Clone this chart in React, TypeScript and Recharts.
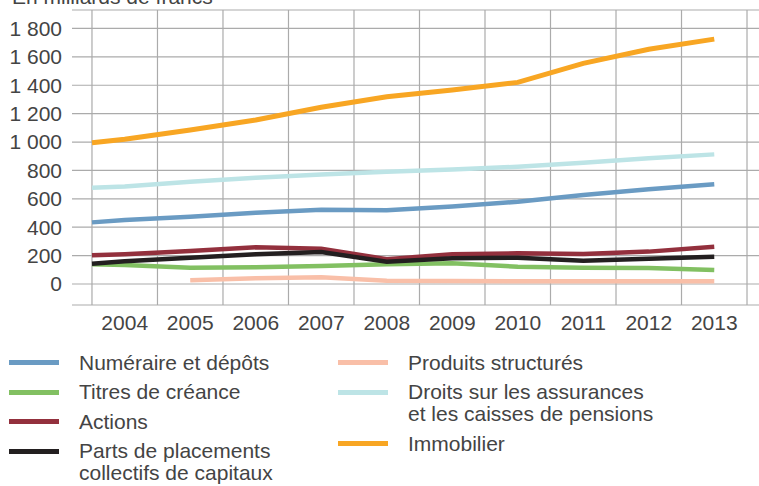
import { LineChart, Line, XAxis, YAxis, CartesianGrid, ReferenceLine } from 'recharts';

// first value sits on the left edge (end 2003), the rest at mid-year
const dates = [2003.5, 2004, 2005, 2006, 2007, 2008, 2009, 2010, 2011, 2012, 2013];
const yearTicks = [2004, 2005, 2006, 2007, 2008, 2009, 2010, 2011, 2012, 2013];
const yTicks = [0, 200, 400, 600, 800, 1000, 1200, 1400, 1600, 1800];

const numeraire = [434, 451, 474, 502, 523, 519, 545, 580, 627, 667, 702];
const titres = [139, 134, 115, 118, 127, 139, 146, 122, 115, 113, 99];
const actions = [202, 209, 232, 258, 249, 175, 209, 216, 211, 228, 263];
const parts = [143, 160, 185, 209, 225, 157, 181, 185, 164, 178, 192];
const produits = [null, null, 26, 40, 47, 23, 21, 19, 19, 19, 19];
const droits = [678, 686, 720, 749, 772, 791, 807, 826, 854, 885, 913];
const immobilier = [995, 1019, 1085, 1155, 1245, 1319, 1366, 1420, 1554, 1653, 1725];

const series = [
    { key: 'numeraire', values: numeraire, color: '#6a9bc3', label: ['Numéraire et dépôts'] },
    { key: 'titres', values: titres, color: '#82c062', label: ['Titres de créance'] },
    { key: 'actions', values: actions, color: '#93303d', label: ['Actions'] },
    { key: 'parts', values: parts, color: '#231f20', label: ['Parts de placements', 'collectifs de capitaux'] },
    { key: 'produits', values: produits, color: '#f9bfa8', label: ['Produits structurés'] },
    { key: 'droits', values: droits, color: '#bde4e6', label: ['Droits sur les assurances', 'et les caisses de pensions'] },
    { key: 'immobilier', values: immobilier, color: '#f8a623', label: ['Immobilier'] },
];

const drawOrder = ['produits', 'droits', 'numeraire', 'titres', 'actions', 'parts', 'immobilier'];

const data = dates.map((d, i) => {
    const row: any = { date: d };
    series.forEach(s => { row[s.key] = s.values[i]; });
    return row;
});

const boundaries = [...yearTicks.map(y => y - 0.5), yearTicks[yearTicks.length - 1] + 0.5];

const font = 'Liberation Sans, Arial, sans-serif';
const textColor = '#444';

function LegendColumn({ items, left }: { items: typeof series; left: number }) {
    return (
        <div style={{ position: 'absolute', left, top: 351.5 }}>
            {items.map(s => (
                <div key={s.key} style={{ display: 'flex', marginBottom: 7.5 }}>
                    <div style={{ width: 50, height: 5, marginTop: 8.5, background: s.color }} />
                    <div style={{ marginLeft: 20, fontSize: 21, lineHeight: '22px', color: textColor }}>
                        {s.label.map(l => <div key={l}>{l}</div>)}
                    </div>
                </div>
            ))}
        </div>
    );
}

export default function App() {
    return (
        <div style={{ position: 'absolute', top: 0, left: 0, width: 759, height: 486, overflow: 'hidden', background: '#fff', fontFamily: font }}>
            <div style={{ position: 'absolute', left: 12, top: -14, fontSize: 21, lineHeight: '21px', color: textColor }}>
                En milliards de francs
            </div>
            <LineChart width={759} height={340} data={data} margin={{ top: 10, right: 0, left: 0, bottom: 0 }}>
                <CartesianGrid vertical={false} stroke="#ababab" strokeWidth={1.2} />
                {boundaries.map(b => (
                    <ReferenceLine key={b} x={b} stroke="#ababab" strokeWidth={1.2} />
                ))}
                <XAxis
                    dataKey="date"
                    type="number"
                    domain={[2003.195, 2013.683]}
                    ticks={yearTicks}
                    allowDataOverflow
                    axisLine={false}
                    tickLine={false}
                    tickSize={0}
                    tickMargin={10}
                    height={35}
                    interval={0}
                    tick={{ fontSize: 21, fill: textColor, fontFamily: font }}
                />
                <YAxis
                    type="number"
                    domain={[-148, 1930]}
                    ticks={yTicks}
                    allowDataOverflow
                    axisLine={false}
                    tickLine={false}
                    tickSize={0}
                    tickMargin={10}
                    width={72}
                    interval={0}
                    tickFormatter={(v: number) => v >= 1000 ? `${Math.floor(v / 1000)} ${String(v % 1000).padStart(3, '0')}` : String(v)}
                    tick={{ fontSize: 21, fill: textColor, fontFamily: font }}
                />
                {drawOrder.map(k => {
                    const s = series.find(x => x.key === k)!;
                    return (
                        <Line
                            key={k}
                            type="linear"
                            dataKey={k}
                            stroke={s.color}
                            strokeWidth={k === 'immobilier' ? 5 : 4.5}
                            dot={false}
                            activeDot={false}
                            isAnimationActive={false}
                        />
                    );
                })}
            </LineChart>
            <LegendColumn items={series.slice(0, 4)} left={9} />
            <LegendColumn items={series.slice(4)} left={338} />
        </div>
    );
}
